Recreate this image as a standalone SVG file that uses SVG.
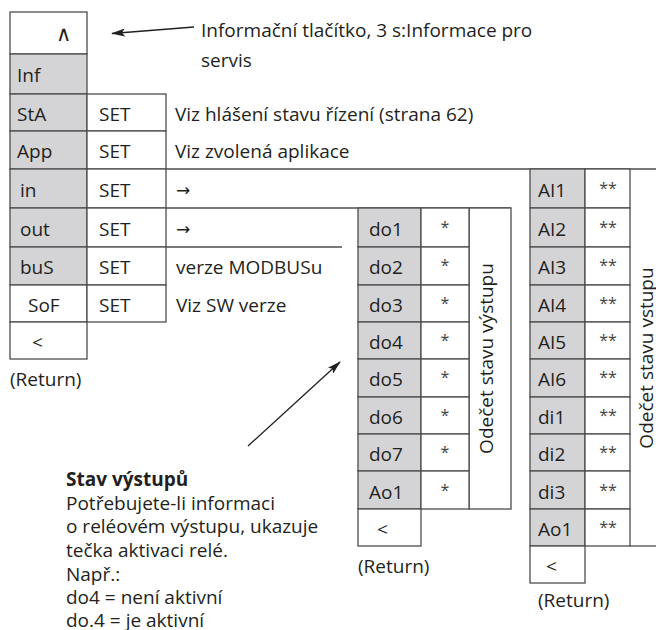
<svg xmlns="http://www.w3.org/2000/svg" width="656" height="630" viewBox="0 0 656 630">
<defs>
<style>
.g{fill:#d4d4d6;stroke:#4d4d4d;stroke-width:1.3}
.w{fill:#ffffff;stroke:#4d4d4d;stroke-width:1.3}
.ln{fill:none;stroke:#4d4d4d;stroke-width:1.3}
.t{font-family:"Open Sans","Liberation Sans",sans-serif;font-size:19px;fill:#231f20}
.b{font-weight:bold}
.st{font-family:"Open Sans","Liberation Sans",sans-serif;font-size:16px;fill:#444444}
.sym{font-family:"DejaVu Sans","Liberation Sans",sans-serif;font-size:17px;fill:#231f20}
.car{font-family:"DejaVu Sans","Liberation Sans",sans-serif;font-size:21px;font-weight:200;fill:#231f20}
.ar{fill:none;stroke:#231f20;stroke-width:1.3}
</style>
<marker id="ah" viewBox="0 0 14 8" refX="13" refY="4" markerUnits="userSpaceOnUse" markerWidth="14" markerHeight="8" orient="auto">
<path d="M0,0 L14,4 L0,8 L3,4 z" fill="#231f20"/>
</marker>
</defs>
<rect width="656" height="630" fill="#ffffff"/>

<g id="info-button">
<rect class="w" x="10" y="12" width="77" height="42"/>
<text class="car" x="56" y="41">∧</text>
</g>
<g id="row-inf">
<rect class="g" x="10" y="54" width="77" height="40"/>
<text class="t" x="17" y="82">Inf</text>
</g>
<g id="row-sta">
<rect class="g" x="10" y="94" width="77" height="37"/>
<rect class="w" x="87" y="94" width="79" height="37"/>
<text class="t" x="17" y="121">StA</text>
<text class="t" x="99" y="121">SET</text>
<text class="t" x="175" y="121">Viz hlášení stavu řízení (strana 62)</text>
</g>
<g id="row-app">
<rect class="g" x="10" y="131" width="77" height="38"/>
<rect class="w" x="87" y="131" width="79" height="38"/>
<text class="t" x="17" y="158">App</text>
<text class="t" x="99" y="158">SET</text>
<text class="t" x="175" y="158">Viz zvolená aplikace</text>
</g>
<g id="row-in">
<rect class="g" x="10" y="169" width="77" height="39"/>
<rect class="w" x="87" y="169" width="79" height="39"/>
<text class="t" x="20" y="197">in</text>
<text class="t" x="99" y="197">SET</text>
<text class="sym" x="176" y="196">→</text>
</g>
<g id="row-out">
<rect class="g" x="10" y="208" width="77" height="39"/>
<rect class="w" x="87" y="208" width="79" height="39"/>
<text class="t" x="20" y="236">out</text>
<text class="t" x="99" y="236">SET</text>
<text class="sym" x="176" y="235">→</text>
</g>
<g id="row-bus">
<rect class="g" x="10" y="247" width="77" height="38"/>
<rect class="w" x="87" y="247" width="79" height="38"/>
<text class="t" x="20" y="274">buS</text>
<text class="t" x="99" y="274">SET</text>
<text class="t" x="176" y="274">verze MODBUSu</text>
</g>
<g id="row-sof">
<rect class="w" x="10" y="285" width="77" height="37"/>
<rect class="w" x="87" y="285" width="79" height="37"/>
<text class="t" x="28" y="312">SoF</text>
<text class="t" x="99" y="312">SET</text>
<text class="t" x="176" y="312">Viz SW verze</text>
</g>
<g id="row-return-left">
<rect class="w" x="10" y="322" width="77" height="37"/>
<text class="t" x="32" y="349">&lt;</text>
<text class="t" x="10" y="386">(Return)</text>
</g>
<g id="left-table-lines">
<line class="ln" x1="166" y1="169" x2="656" y2="169"/>
<line class="ln" x1="166" y1="208" x2="511" y2="208"/>
<line class="ln" x1="166" y1="247" x2="342" y2="247"/>
</g>

<g id="outputs-table">
<rect class="w" x="469" y="208" width="42" height="301"/>
<text class="t" transform="translate(493,358.5) rotate(-90)" text-anchor="middle">Odečet stavu výstupu</text>
<g id="do1"><rect class="g" x="358" y="208" width="63" height="39"/><rect class="w" x="421" y="208" width="48" height="39"/><text class="t" x="369" y="236">do1</text><text class="st" x="445" y="233" text-anchor="middle">*</text></g>
<g id="do2"><rect class="g" x="358" y="247" width="63" height="38"/><rect class="w" x="421" y="247" width="48" height="38"/><text class="t" x="369" y="274">do2</text><text class="st" x="445" y="271" text-anchor="middle">*</text></g>
<g id="do3"><rect class="g" x="358" y="285" width="63" height="37"/><rect class="w" x="421" y="285" width="48" height="37"/><text class="t" x="369" y="312">do3</text><text class="st" x="445" y="309" text-anchor="middle">*</text></g>
<g id="do4"><rect class="g" x="358" y="322" width="63" height="37"/><rect class="w" x="421" y="322" width="48" height="37"/><text class="t" x="369" y="349">do4</text><text class="st" x="445" y="346" text-anchor="middle">*</text></g>
<g id="do5"><rect class="g" x="358" y="359" width="63" height="38"/><rect class="w" x="421" y="359" width="48" height="38"/><text class="t" x="369" y="386">do5</text><text class="st" x="445" y="383" text-anchor="middle">*</text></g>
<g id="do6"><rect class="g" x="358" y="397" width="63" height="37"/><rect class="w" x="421" y="397" width="48" height="37"/><text class="t" x="369" y="424">do6</text><text class="st" x="445" y="421" text-anchor="middle">*</text></g>
<g id="do7"><rect class="g" x="358" y="434" width="63" height="37"/><rect class="w" x="421" y="434" width="48" height="37"/><text class="t" x="369" y="461">do7</text><text class="st" x="445" y="458" text-anchor="middle">*</text></g>
<g id="do-ao1"><rect class="g" x="358" y="471" width="63" height="38"/><rect class="w" x="421" y="471" width="48" height="38"/><text class="t" x="369" y="499">Ao1</text><text class="st" x="445" y="496" text-anchor="middle">*</text></g>
<g id="do-return"><rect class="w" x="358" y="509" width="63" height="37"/><text class="t" x="377" y="536">&lt;</text><text class="t" x="358" y="573">(Return)</text></g>
</g>

<g id="inputs-table">
<line class="ln" x1="630" y1="546" x2="656" y2="546"/>
<text class="t" transform="translate(653,358) rotate(-90)" text-anchor="middle">Odečet stavu vstupu</text>
<g id="ai1"><rect class="g" x="530" y="169" width="55" height="39"/><rect class="w" x="585" y="169" width="45" height="39"/><text class="t" x="538" y="197">AI1</text><text class="st" x="608" y="194" text-anchor="middle">**</text></g>
<g id="ai2"><rect class="g" x="530" y="208" width="55" height="39"/><rect class="w" x="585" y="208" width="45" height="39"/><text class="t" x="538" y="236">AI2</text><text class="st" x="608" y="233" text-anchor="middle">**</text></g>
<g id="ai3"><rect class="g" x="530" y="247" width="55" height="38"/><rect class="w" x="585" y="247" width="45" height="38"/><text class="t" x="538" y="274">AI3</text><text class="st" x="608" y="271" text-anchor="middle">**</text></g>
<g id="ai4"><rect class="g" x="530" y="285" width="55" height="37"/><rect class="w" x="585" y="285" width="45" height="37"/><text class="t" x="538" y="312">AI4</text><text class="st" x="608" y="309" text-anchor="middle">**</text></g>
<g id="ai5"><rect class="g" x="530" y="322" width="55" height="37"/><rect class="w" x="585" y="322" width="45" height="37"/><text class="t" x="538" y="349">AI5</text><text class="st" x="608" y="346" text-anchor="middle">**</text></g>
<g id="ai6"><rect class="g" x="530" y="359" width="55" height="38"/><rect class="w" x="585" y="359" width="45" height="38"/><text class="t" x="538" y="386">AI6</text><text class="st" x="608" y="383" text-anchor="middle">**</text></g>
<g id="di1"><rect class="g" x="530" y="397" width="55" height="37"/><rect class="w" x="585" y="397" width="45" height="37"/><text class="t" x="538" y="424">di1</text><text class="st" x="608" y="421" text-anchor="middle">**</text></g>
<g id="di2"><rect class="g" x="530" y="434" width="55" height="37"/><rect class="w" x="585" y="434" width="45" height="37"/><text class="t" x="538" y="461">di2</text><text class="st" x="608" y="458" text-anchor="middle">**</text></g>
<g id="di3"><rect class="g" x="530" y="471" width="55" height="38"/><rect class="w" x="585" y="471" width="45" height="38"/><text class="t" x="538" y="499">di3</text><text class="st" x="608" y="496" text-anchor="middle">**</text></g>
<g id="ai-ao1"><rect class="g" x="530" y="509" width="55" height="37"/><rect class="w" x="585" y="509" width="45" height="37"/><text class="t" x="538" y="536">Ao1</text><text class="st" x="608" y="533" text-anchor="middle">**</text></g>
<g id="ai-return"><rect class="w" x="530" y="546" width="55" height="37"/><text class="t" x="546" y="573">&lt;</text><text class="t" x="538" y="607">(Return)</text></g>
</g>

<g id="note-info">
<text class="t" x="201" y="37">Informační tlačítko, 3 s:Informace pro</text>
<text class="t" x="201" y="67">servis</text>
</g>

<g id="note-outputs">
<text class="t b" x="66" y="486">Stav výstupů</text>
<text class="t" x="66" y="510">Potřebujete-li informaci</text>
<text class="t" x="66" y="533">o reléovém výstupu, ukazuje</text>
<text class="t" x="66" y="557">tečka aktivaci relé.</text>
<text class="t" x="66" y="581">Např.:</text>
<text class="t" x="66" y="604">do4 = není aktivní</text>
<text class="t" x="66" y="627">do.4 = je aktivní</text>
</g>

<g id="connectors">
<line class="ar" x1="194" y1="27" x2="112" y2="33.5" marker-end="url(#ah)"/>
<line class="ar" x1="248" y1="446" x2="340" y2="362" marker-end="url(#ah)"/>
</g>
</svg>
